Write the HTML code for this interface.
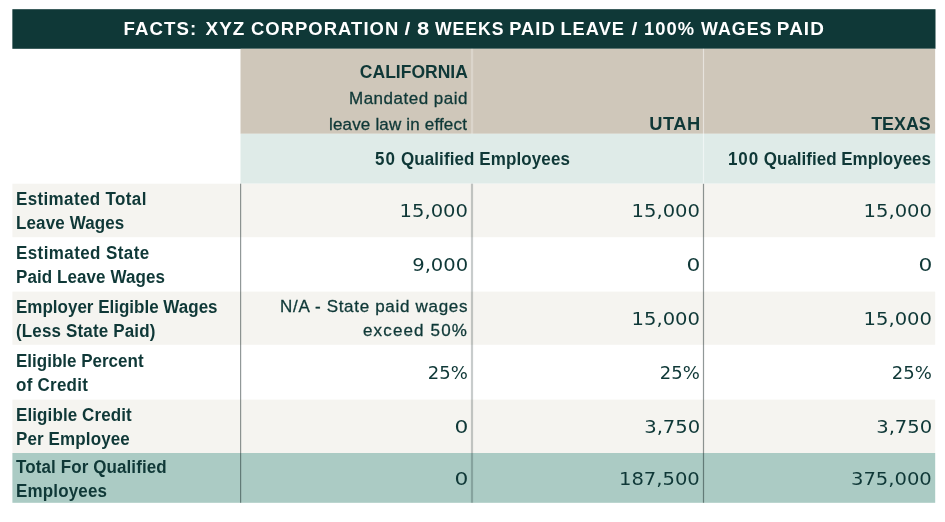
<!DOCTYPE html>
<html lang="en">
<head>
<meta charset="utf-8">
<title>Facts: XYZ Corporation</title>
<style>
html,body{margin:0;padding:0;background:#fff;}
body{width:945px;height:522px;position:relative;overflow:hidden;font-family:"Liberation Sans",sans-serif;color:#0f3837;}
.bg{position:absolute;}
.t{position:absolute;white-space:nowrap;line-height:24px;font-size:17px;will-change:transform;}
.rg{-webkit-text-stroke:.3px #0f3837;}
.b{font-weight:bold;transform:scaleY(1.035);transform-origin:0 17.9px;}
.r{text-align:right;}
.num{font-family:"DejaVu Sans","Liberation Sans",sans-serif;font-size:17px;letter-spacing:0;transform:translateX(-.5px) scaleX(1.15);transform-origin:100% 50%;}
.na{letter-spacing:.69px;}
#title{left:0;top:17px;width:945px;height:24px;color:#fff;font-weight:bold;font-size:17.5px;letter-spacing:1px;}
.w{position:absolute;left:0;top:0;transform-origin:0 0;will-change:transform;}
.vl{position:absolute;width:1px;}
</style>
</head>
<body>
<!-- backgrounds -->
<svg class="bg" style="left:0;top:0" width="945" height="522" viewBox="0 0 945 522">
<rect x="12.35" y="9.2" width="923.15" height="39.6" fill="#0f3837"/>
<rect x="240.5" y="48.8" width="694.65" height="85" fill="#cfc7ba"/>
<rect x="240.5" y="133.8" width="694.65" height="49.9" fill="#dfebe8"/>
<rect x="12.4" y="183.7" width="922.8" height="53.5" fill="#f5f4f0"/>
<rect x="12.4" y="291.6" width="922.8" height="53.2" fill="#f5f4f0"/>
<rect x="12.4" y="399.6" width="922.8" height="53.4" fill="#f5f4f0"/>
<rect x="12.4" y="453" width="922.8" height="49.8" fill="#abcbc4"/>
<!-- vertical rules -->
<rect x="240" y="183.7" width="1.2" height="319.1" fill="#051515" fill-opacity=".44"/>
<rect x="470.9" y="183.7" width="2.2" height="319.1" fill="#051515" fill-opacity=".22"/>
<rect x="702.9" y="183.7" width="1.2" height="319.1" fill="#051515" fill-opacity=".44"/>
<rect x="470.9" y="48.8" width="2.3" height="85" fill="#fff" fill-opacity=".25"/>
<rect x="702.9" y="48.8" width="1.2" height="134.9" fill="#fff" fill-opacity=".5"/>
</svg>

<div class="t" id="title"><span class="w" style="transform:translateX(123.47px) scaleX(1.065)">FACTS:</span> <span class="w" style="transform:translateX(205.43px) scaleX(1.081)">XYZ</span> <span class="w" style="transform:translateX(250.91px) scaleX(1.053)">CORPORATION</span> <span class="w" style="transform:translateX(404.6px) scaleX(1.2)">/</span> <span class="w" style="transform:translateX(417.07px) scaleX(1.257)">8</span> <span class="w" style="transform:translateX(435.0px) scaleX(1.006)">WEEKS</span> <span class="w" style="transform:translateX(509.2px) scaleX(1.043)">PAID</span> <span class="w" style="transform:translateX(560.4px) scaleX(1.042)">LEAVE</span> <span class="w" style="transform:translateX(631.45px) scaleX(1.2)">/</span> <span class="w" style="transform:translateX(643.95px) scaleX(1.049)">100%</span> <span class="w" style="transform:translateX(701.0px) scaleX(1.02)">WAGES</span> <span class="w" style="transform:translateX(776.85px) scaleX(1.08)">PAID</span></div>

<div class="t b r" id="h1a" style="right:477px;top:61px;transform:scale(1.03,1.035);transform-origin:100% 17.9px">CALIFORNIA</div>
<div class="t r rg" id="h1b" style="right:477px;top:87px;letter-spacing:.5px">Mandated paid</div>
<div class="t r rg" id="h1c" style="right:478px;top:113px;letter-spacing:.17px">leave law in effect</div>
<div class="t b r" id="h2" style="right:244px;top:113px;letter-spacing:.4px;transform:scale(1.077,1.035);transform-origin:100% 17.9px">UTAH</div>
<div class="t b r" id="h3" style="right:14px;top:113px;transform:scale(1.05,1.035);transform-origin:100% 17.9px">TEXAS</div>

<div class="t b" id="q1" style="left:241px;width:463px;text-align:center;top:148px;letter-spacing:.1px"><span style="letter-spacing:1.1px">50</span> Qualified Employees</div>
<div class="t b r" id="q2" style="right:14px;top:148px"><span style="letter-spacing:.9px">100</span> Qualified Employees</div>

<div class="t b" id="l1a" style="left:16px;top:188px;letter-spacing:.36px">Estimated Total</div>
<div class="t b" id="l1b" style="left:16px;top:212px;letter-spacing:0.12px">Leave Wages</div>
<div class="t b" id="l2a" style="left:16px;top:242px;letter-spacing:.4px">Estimated State</div>
<div class="t b" id="l2b" style="left:16px;top:266px;letter-spacing:0.08px">Paid Leave Wages</div>
<div class="t b" id="l3a" style="left:16px;top:296px">Employer Eligible Wages</div>
<div class="t b" id="l3b" style="left:16px;top:320px;letter-spacing:0.15px">(Less State Paid)</div>
<div class="t b" id="l4a" style="left:16px;top:350px">Eligible Percent</div>
<div class="t b" id="l4b" style="left:16px;top:374px;letter-spacing:0.25px">of Credit</div>
<div class="t b" id="l5a" style="left:16px;top:404px;letter-spacing:0.1px">Eligible Credit</div>
<div class="t b" id="l5b" style="left:16px;top:428px;letter-spacing:0.12px">Per Employee</div>
<div class="t b" id="l6a" style="left:16px;top:456px;letter-spacing:0.1px">Total For Qualified</div>
<div class="t b" id="l6b" style="left:16px;top:480px;letter-spacing:0.15px">Employees</div>

<div class="t r num" id="n11" style="right:477px;top:199px">15,000</div>
<div class="t r num" id="n12" style="right:245px;top:199px">15,000</div>
<div class="t r num" id="n13" style="right:13px;top:199px">15,000</div>
<div class="t r num" id="n21" style="right:476px;top:253px">9,000</div>
<div class="t r num" id="n22" style="transform:translateX(-.5px) scaleX(1.28);right:244px;top:253px">0</div>
<div class="t r num" id="n23" style="transform:translateX(-.5px) scaleX(1.28);right:12px;top:253px">0</div>
<div class="t r na rg" id="n31a" style="right:477px;top:295px">N/A - State paid wages</div>
<div class="t r na rg" id="n31b" style="right:477px;top:319px;letter-spacing:1.15px">exceed 50%</div>
<div class="t r num" id="n32" style="right:245px;top:307px">15,000</div>
<div class="t r num" id="n33" style="right:13px;top:307px">15,000</div>
<div class="t r num" id="n41" style="transform:translateX(-1px) scaleX(1.06);right:476px;top:361px">25%</div>
<div class="t r num" id="n42" style="transform:translateX(-1px) scaleX(1.06);right:244px;top:361px">25%</div>
<div class="t r num" id="n43" style="transform:translateX(-1px) scaleX(1.06);right:12px;top:361px">25%</div>
<div class="t r num" id="n51" style="transform:translateX(-.5px) scaleX(1.28);right:476px;top:415px">0</div>
<div class="t r num" id="n52" style="right:244px;top:415px">3,750</div>
<div class="t r num" id="n53" style="right:12px;top:415px">3,750</div>
<div class="t r num" id="n61" style="transform:translateX(-.5px) scaleX(1.28);right:476px;top:467px">0</div>
<div class="t r num" id="n62" style="right:245px;top:467px">187,500</div>
<div class="t r num" id="n63" style="right:13px;top:467px">375,000</div>
</body>
</html>
